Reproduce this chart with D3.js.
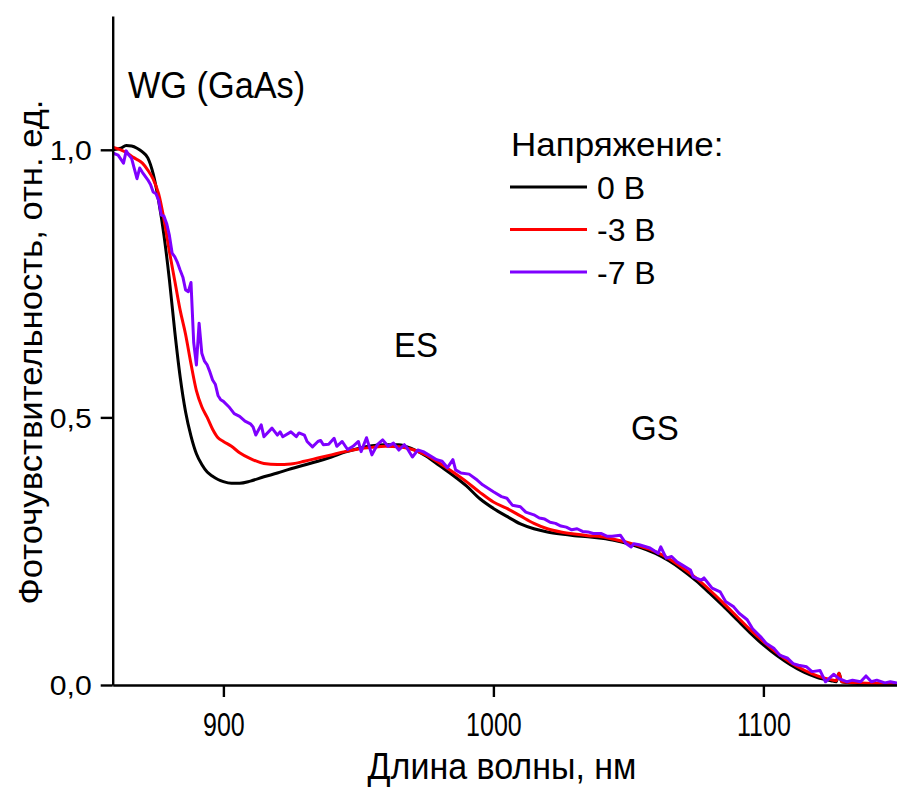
<!DOCTYPE html>
<html>
<head>
<meta charset="utf-8">
<script src="https://cdn.jsdelivr.net/npm/d3@7/dist/d3.min.js"></script>
<style>
  html, body { margin: 0; padding: 0; background: #fff; }
  svg { display: block; }
</style>
</head>
<body>
<script>
const width = 897;
const height = 787;
const font = "Arial, 'Liberation Sans', Helvetica, sans-serif";

// 0 V
const blackWave = [859, 862, 864, 866, 868, 870, 872, 874, 876, 878, 880, 882, 884, 886, 888, 890, 892, 894, 896, 898,
  900, 903, 906, 910, 915, 920, 925, 930, 935, 940, 945, 950, 955, 960, 965, 970, 975, 980, 985, 990, 995,
  1000, 1005, 1010, 1015, 1020, 1025, 1030, 1035, 1040, 1045, 1050, 1055, 1060, 1065, 1070, 1075, 1080, 1085,
  1090, 1095, 1100, 1105, 1110, 1115, 1120, 1125, 1127, 1128, 1129, 1135, 1140, 1145, 1150];
const blackSignal = [1.0, 1.003, 1.008, 1.007, 1.003, 0.996, 0.985, 0.955, 0.905, 0.84, 0.757, 0.66, 0.575, 0.51, 0.465, 0.432, 0.412, 0.398, 0.39, 0.384,
  0.38, 0.377, 0.377, 0.381, 0.389, 0.396, 0.404, 0.411, 0.418, 0.426, 0.435, 0.442, 0.447, 0.449, 0.449, 0.441, 0.428, 0.41, 0.392, 0.372, 0.348,
  0.33, 0.315, 0.301, 0.292, 0.286, 0.282, 0.279, 0.277, 0.274, 0.27, 0.264, 0.256, 0.246, 0.232, 0.215, 0.195, 0.172, 0.148,
  0.123, 0.098, 0.075, 0.055, 0.038, 0.024, 0.014, 0.008, 0.006, 0.022, 0.006, 0.003, 0.002, 0.002, 0.001];

// -3 V
const redWave = [859, 862, 864, 866, 868, 870, 872, 874, 876, 878, 880, 882, 884, 886, 888, 890, 892, 894, 896, 898,
  900, 903, 906, 910, 915, 920, 925, 930, 935, 940, 945, 950, 955, 960, 965, 970, 975, 980, 985, 990, 995,
  1000, 1005, 1010, 1015, 1020, 1025, 1030, 1035, 1040, 1045, 1050, 1055, 1060, 1065, 1070, 1075, 1080, 1085,
  1090, 1095, 1100, 1105, 1110, 1115, 1120, 1125, 1127, 1128, 1129, 1135, 1140, 1145, 1150];
const redSignal = [1.005, 1.0, 0.995, 0.988, 0.982, 0.975, 0.962, 0.945, 0.918, 0.87, 0.81, 0.755, 0.7, 0.655, 0.6, 0.55, 0.52, 0.5, 0.478, 0.462,
  0.455, 0.446, 0.434, 0.423, 0.414, 0.412, 0.413, 0.418, 0.424, 0.43, 0.436, 0.441, 0.444, 0.446, 0.445, 0.44, 0.43, 0.415, 0.398, 0.38, 0.36,
  0.342, 0.33, 0.316, 0.302, 0.292, 0.286, 0.282, 0.279, 0.277, 0.272, 0.266, 0.258, 0.249, 0.236, 0.219, 0.2, 0.178, 0.154,
  0.129, 0.104, 0.081, 0.06, 0.042, 0.028, 0.017, 0.01, 0.008, 0.022, 0.006, 0.004, 0.003, 0.002, 0.002];

// -7 V
const violetWave = [859, 861, 863, 864, 865, 866, 867, 868, 869, 870, 872, 873, 874, 875, 876, 877, 878, 879, 880, 881,
  882, 883, 884, 885, 886, 887, 888, 889, 890, 891, 892, 893, 894, 895, 896, 897, 898, 899, 900, 902,
  904, 906, 908, 910, 911, 912, 914, 915, 918, 920, 921, 922, 925, 927, 928, 930, 931, 933, 935, 936,
  937, 939, 941, 942, 944, 946, 948, 950, 951, 953, 955, 957, 959, 961, 963, 965, 967, 968, 970, 972,
  974, 976, 979, 981, 983, 985, 986, 988, 991, 994, 996, 1000, 1003, 1005, 1007, 1010, 1012, 1015, 1017, 1019,
  1021, 1023, 1025, 1027, 1029, 1031, 1033, 1035, 1037, 1040, 1042, 1044, 1047, 1049, 1051, 1052, 1054, 1058, 1061, 1062,
  1064, 1066, 1068, 1070, 1073, 1074, 1077, 1078, 1081, 1084, 1086, 1089, 1091, 1094, 1096, 1099, 1101, 1104, 1106, 1109,
  1111, 1113, 1116, 1118, 1121, 1123, 1126, 1128, 1131, 1133, 1136, 1138, 1140, 1142, 1145, 1147, 1150];
const violetSignal = [0.994, 0.99, 0.975, 0.998, 0.99, 0.984, 0.965, 0.946, 0.966, 0.958, 0.944, 0.935, 0.921, 0.918, 0.906, 0.878, 0.876, 0.862, 0.84, 0.807,
  0.8, 0.789, 0.775, 0.762, 0.738, 0.735, 0.752, 0.64, 0.598, 0.676, 0.62, 0.605, 0.598, 0.585, 0.57, 0.562, 0.541, 0.533, 0.53, 0.52,
  0.507, 0.502, 0.493, 0.488, 0.482, 0.467, 0.486, 0.464, 0.48, 0.467, 0.473, 0.464, 0.473, 0.464, 0.471, 0.467, 0.455, 0.445, 0.455, 0.457,
  0.449, 0.45, 0.461, 0.446, 0.455, 0.44, 0.446, 0.455, 0.436, 0.462, 0.43, 0.449, 0.458, 0.446, 0.452, 0.439, 0.449, 0.443, 0.426, 0.439,
  0.436, 0.43, 0.421, 0.418, 0.406, 0.421, 0.402, 0.396, 0.394, 0.383, 0.374, 0.361, 0.352, 0.349, 0.336, 0.333, 0.323, 0.318, 0.312, 0.31,
  0.304, 0.302, 0.297, 0.295, 0.29, 0.292, 0.287, 0.286, 0.283, 0.283, 0.278, 0.278, 0.28, 0.265, 0.258, 0.264, 0.262, 0.256, 0.246, 0.258,
  0.237, 0.24, 0.23, 0.224, 0.215, 0.202, 0.196, 0.2, 0.181, 0.174, 0.156, 0.146, 0.134, 0.122, 0.105, 0.09, 0.078, 0.068, 0.056, 0.05,
  0.04, 0.037, 0.034, 0.025, 0.027, 0.006, 0.02, 0.012, 0.006, 0.009, 0.006, 0.017, 0.006, 0.009, 0.004, 0.006, 0.003];

const xMajor = [900, 1000, 1100];
const xMinor = [950, 1050, 1150];
const yMajor = [0, 0.5, 1.0];
const yMinor = [0.25, 0.75, 1.25];
const legendLabels = ["0 В", "-3 В", "-7 В"];
const colors = ["#000000", "#ff0000", "#7f00ff"];

const series = [
  { wave: blackWave, values: blackSignal },
  { wave: redWave, values: redSignal },
  { wave: violetWave, values: violetSignal },
];

const x = d3.scaleLinear().domain([859, 1150]).range([112.7, 898.4]);
const y = d3.scaleLinear().domain([0, 1.25]).range([685, 16]);

const svg = d3.select("body")
  .append("svg")
  .attr("width", width)
  .attr("height", height)
  .attr("viewBox", `0 0 ${width} ${height}`);

svg.append("defs")
  .append("clipPath")
  .attr("id", "plot-clip")
  .append("rect")
  .attr("x", 112.7)
  .attr("y", 0)
  .attr("width", 800)
  .attr("height", 685);

// curves: black first, violet on top
const line = d3.line().x((d) => x(d[0])).y((d) => y(d[1]));

svg.append("g")
  .attr("clip-path", "url(#plot-clip)")
  .selectAll("path")
  .data(series)
  .join("path")
  .attr("d", (s, i) => line.curve(i === 2 ? d3.curveLinear : d3.curveMonotoneX)(s.wave.map((w, k) => [w, s.values[k]])))
  .attr("fill", "none")
  .attr("stroke", (s, i) => colors[i])
  .attr("stroke-width", 3)
  .attr("stroke-linejoin", "round");

// axes
const xAxis = svg.append("g").attr("transform", "translate(0,685)");
xAxis.call(d3.axisBottom(x).tickValues(xMinor).tickSize(6).tickSizeOuter(0).tickFormat(""));
xAxis.call(d3.axisBottom(x).tickValues(xMajor).tickSize(12).tickSizeOuter(0).tickFormat(d3.format("d")));

const yAxis = svg.append("g").attr("transform", "translate(112.7,0)");
yAxis.call(d3.axisLeft(y).tickValues(yMinor).tickSize(6).tickSizeOuter(0).tickFormat(""));
yAxis.call(d3.axisLeft(y).tickValues(yMajor).tickSize(12).tickSizeOuter(0)
  .tickFormat((d) => d3.format(".1f")(d).replace(".", ",")));

svg.selectAll(".domain").attr("stroke", "#000").attr("stroke-width", 2.4);
svg.selectAll(".tick line").attr("stroke", "#000").attr("stroke-width", 2.4);

xAxis.selectAll(".tick text")
  .attr("font-family", font)
  .attr("font-size", 25)
  .attr("fill", "#000")
  .attr("y", null)
  .attr("dy", null)
  .attr("transform", "translate(0,51) scale(1,1.3)");

yAxis.selectAll(".tick text")
  .attr("font-family", font)
  .attr("font-size", 27)
  .attr("fill", "#000")
  .attr("x", 0)
  .attr("dy", "0.36em")
  .attr("transform", "translate(-21,0) scale(1.12,1)");

// axis titles
svg.append("text")
  .attr("transform", "translate(502,779) scale(1,1.1)")
  .attr("text-anchor", "middle")
  .attr("font-family", font)
  .attr("font-size", 34)
  .text("Длина волны, нм");

svg.append("text")
  .attr("transform", "translate(42,352) rotate(-90) scale(1.05,1)")
  .attr("text-anchor", "middle")
  .attr("font-family", font)
  .attr("font-size", 33)
  .text("Фоточувствительность, отн. ед.");

// annotations
svg.append("text").attr("transform", "translate(128,98) scale(1,1.06)")
  .attr("font-family", font).attr("font-size", 34.3).text("WG (GaAs)");
svg.append("text").attr("transform", "translate(394,357) scale(1,1.04)")
  .attr("font-family", font).attr("font-size", 33).text("ES");
svg.append("text").attr("transform", "translate(631,440) scale(1,1.04)")
  .attr("font-family", font).attr("font-size", 33).text("GS");

// legend
svg.append("text").attr("transform", "translate(511,156) scale(1.06,1)")
  .attr("font-family", font).attr("font-size", 33).text("Напряжение:");
const legendY = [187, 229.5, 272];
const legend = svg.append("g")
  .selectAll("g")
  .data(legendLabels)
  .join("g")
  .attr("transform", (d, i) => `translate(0,${legendY[i]})`);
legend.append("line")
  .attr("x1", 510).attr("x2", 587)
  .attr("stroke", (d, i) => colors[i])
  .attr("stroke-width", 3);
legend.append("text")
  .attr("x", 597)
  .attr("y", 11.5)
  .attr("font-family", font)
  .attr("font-size", 32)
  .text((d) => d);
</script>
</body>
</html>
